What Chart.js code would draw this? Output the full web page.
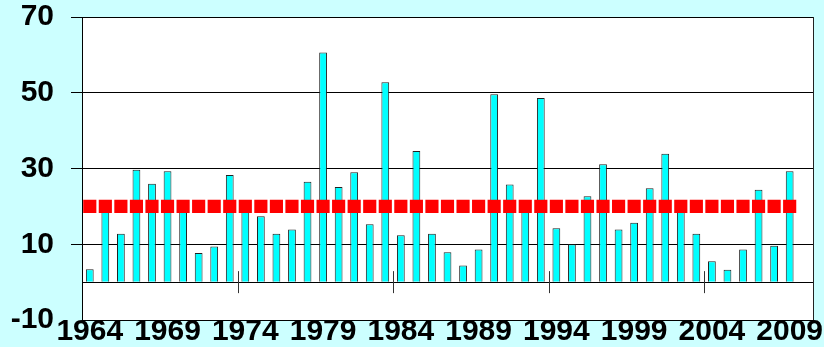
<!DOCTYPE html>
<html><head><meta charset="utf-8">
<script src="https://cdn.jsdelivr.net/npm/chart.js@4/dist/chart.umd.min.js"></script>
<style>html,body{margin:0;padding:0;background:#CCFFFF;overflow:hidden}canvas{display:block}</style>
</head><body>
<canvas id="c" width="824" height="347"></canvas>
<script>
const years = ['1964','1965','1966','1967','1968','1969','1970','1971','1972','1973',
  '1974','1975','1976','1977','1978','1979','1980','1981','1982','1983',
  '1984','1985','1986','1987','1988','1989','1990','1991','1992','1993',
  '1994','1995','1996','1997','1998','1999','2000','2001','2002','2003',
  '2004','2005','2006','2007','2008','2009','2010'];
const values = [3.4,19.5,12.8,29.7,26.0,29.3,19.8,7.7,9.4,28.3,
  19.6,17.4,12.8,13.9,26.5,60.6,25.1,29.0,15.3,52.8,
  12.4,34.6,12.8,7.9,4.4,8.6,49.6,25.8,19.5,48.6,
  14.2,10.0,22.7,31.1,13.9,15.7,24.8,33.9,19.6,12.8,
  5.5,3.3,8.6,24.4,9.6,29.3,null];
const average = [20,20,20,20,20,20,20,20,20,20,
  20,20,20,20,20,20,20,20,20,20,
  20,20,20,20,20,20,20,20,20,20,
  20,20,20,20,20,20,20,20,20,20,
  20,20,20,20,20,20,null];
const xTickLabels = ['1964','1969','1974','1979','1984','1989','1994','1999','2004','2009'];
const yTickLabels = [-10,10,30,50,70];
const yGridValues = [0,10,30,50,70];

const FONT = {family:"'Liberation Sans', Arial, sans-serif", size:30, weight:'bold', lineHeight:1};

const plotFrame = {
  id:'plotFrame',
  beforeDraw(chart){
    const {ctx, chartArea:a} = chart;
    ctx.save();
    ctx.fillStyle = '#FFFFFF';
    ctx.fillRect(a.left, a.top, a.right - a.left, a.bottom - a.top);
    ctx.restore();
  },
  afterDatasetsDraw(chart){
    const {ctx, chartArea:a} = chart;
    const xs = chart.scales.x, ys = chart.scales.y;
    ctx.save();
    ctx.strokeStyle = '#222';
    ctx.lineWidth = 1;
    ctx.beginPath();
    ctx.moveTo(Math.round(a.right)+0.5, a.top);
    ctx.lineTo(Math.round(a.right)+0.5, a.bottom);
    ctx.stroke();
    // cross ticks on the zero line every 10 categories
    const y0 = ys.getPixelForValue(0);
    const half = (xs.getPixelForValue(1) - xs.getPixelForValue(0)) / 2;
    ctx.strokeStyle = '#333';
    for (let i = 0; i < years.length - 1; i++) {
      if (i % 10 === 9) {
        const x = Math.round(xs.getPixelForValue(i) + half) + 0.5;
        ctx.beginPath();
        ctx.moveTo(x, y0 - 11);
        ctx.lineTo(x, y0 + 11);
        ctx.stroke();
      }
    }
    ctx.restore();
  }
};

new Chart(document.getElementById('c'), {
  type:'bar',
  data:{
    labels: years,
    datasets:[
      {type:'line', data: average, showLine:false, pointStyle:'rect', pointRadius:9.3,
       pointHoverRadius:9.3, pointBackgroundColor:'#FF0000', pointBorderColor:'#FF0000',
       pointBorderWidth:0, borderColor:'#FF0000', order:0},
      {type:'bar', data: values, backgroundColor:'#00FFFF', borderColor:'#222222',
       borderWidth:1, categoryPercentage:1, barPercentage:0.5, order:1}
    ]
  },
  options:{
    responsive:false, animation:false, devicePixelRatio:1,
    layout:{padding:{top:17, right:11, left:0, bottom:0}},
    plugins:{legend:{display:false}, tooltip:{enabled:false}},
    scales:{
      x:{
        offset:true,
        grid:{display:false, drawTicks:false},
        border:{display:true, color:'#000', width:1},
        ticks:{autoSkip:false, maxRotation:0, minRotation:0, padding:-3, color:'#000', font:FONT,
          callback(v,i){ return xTickLabels.includes(years[i]) ? years[i] : ''; }},
        afterFit(s){ s.height = 27; s.paddingLeft = 0; s.paddingRight = 0; }
      },
      y:{
        min:-10, max:70,
        ticks:{stepSize:10, padding:17, color:'#000', font:FONT,
          callback(v){ return yTickLabels.includes(v) ? String(v) : ''; }},
        grid:{
          color(c){ return yGridValues.includes(c.tick.value) ? '#000' : 'rgba(0,0,0,0)'; },
          tickColor(c){ return (yTickLabels.includes(c.tick.value) && c.tick.value !== -10) ? '#000' : 'rgba(0,0,0,0)'; },
          tickLength:11, lineWidth:1
        },
        border:{display:true, color:'#000', width:1},
        afterFit(s){ s.width = 82; s.paddingTop = 0; s.paddingBottom = 0; }
      }
    }
  },
  plugins:[plotFrame]
});
</script>
</body></html>
